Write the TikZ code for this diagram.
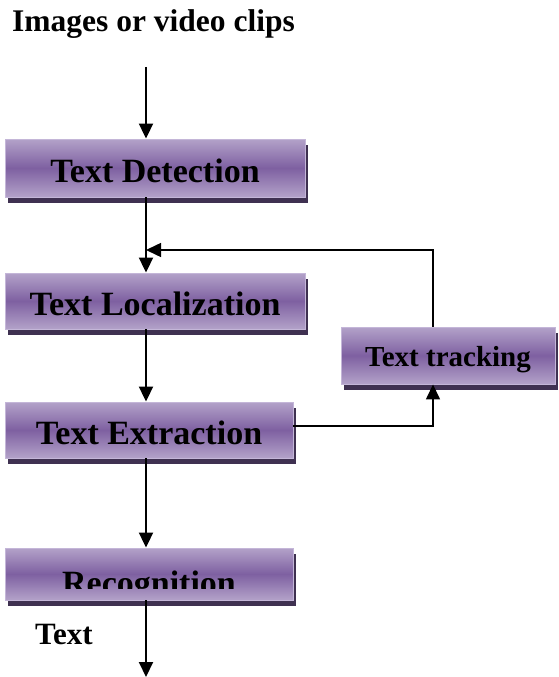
\documentclass[tikz,border=0pt]{standalone}
\usepackage{fontspec}
\setmainfont{Liberation Serif}
\usetikzlibrary{arrows.meta,shadows,calc}
\definecolor{boxlight}{HTML}{B3A2C9}
\definecolor{boxdark}{HTML}{7E60A1}
\definecolor{boxborder}{HTML}{C4B6D8}
\definecolor{boxshadow}{HTML}{3F3151}
\tikzset{
  box/.style={draw=boxborder, line width=0.9pt, top color=boxlight, bottom color=boxlight, middle color=boxdark,
    drop shadow={shadow xshift=3pt, shadow yshift=-6pt, fill=boxshadow, opacity=1},
    inner sep=0pt, text height=28pt, text depth=0pt,
    font=\fontsize{34}{40}\selectfont\bfseries},
  arr/.style={line width=2pt, -{Triangle[width=14pt,length=15pt]}},
  arrthin/.style={line width=1.5pt, -{Triangle[width=14pt,length=15pt]}},
  lbl/.style={anchor=base west, inner sep=0pt, font=\fontsize{31.5}{36}\selectfont\bfseries}
}
\begin{document}
\begin{tikzpicture}[x=1pt,y=-1pt]
\useasboundingbox (0,0) rectangle (558,677);
\node[lbl] (title) at (12,32) {Images or video clips};
\node[box, minimum width=300pt, minimum height=58pt] (det) at (155,168) {Text Detection};
\node[box, minimum width=300pt, minimum height=56pt] (loc) at (155,301) {Text Localization};
\node[box, minimum width=288pt, minimum height=56pt] (ext) at (149,430) {Text Extraction};
\node[box, minimum width=214pt, minimum height=57pt, text height=21pt, font=\fontsize{29}{34}\selectfont\bfseries] (trk) at (448,355.5) {Text tracking};
\node[box, minimum width=288pt, minimum height=52pt] (rec) at (149,574) {};
\begin{scope}
  \clip (5,548) rectangle (293,588);
  \node[anchor=base, inner sep=0pt, font=\fontsize{34}{40}\selectfont\bfseries] (rectext) at (149,594) {Recognition};
\end{scope}
\node[lbl, font=\fontsize{31}{36}\selectfont\bfseries] (txt) at (35,644) {Text};
\coordinate (top) at (146,67);
\coordinate (fb) at (433,250);
\coordinate (end) at (146,677);
\draw[arr] (top) -- (top |- det.north);
\draw[arr] (top |- det.south) -- (top |- loc.north);
\draw[arr] (top |- loc.south) -- (top |- ext.north);
\draw[arr] (top |- ext.south) -- (top |- rec.north);
\draw[arr] (top |- rec.south) -- (end);
\draw[arrthin] (trk.north -| fb) |- (top |- fb);
\draw[arrthin] ([yshift=4pt]ext.east) -| (trk.south -| fb);
\end{tikzpicture}
\end{document}
